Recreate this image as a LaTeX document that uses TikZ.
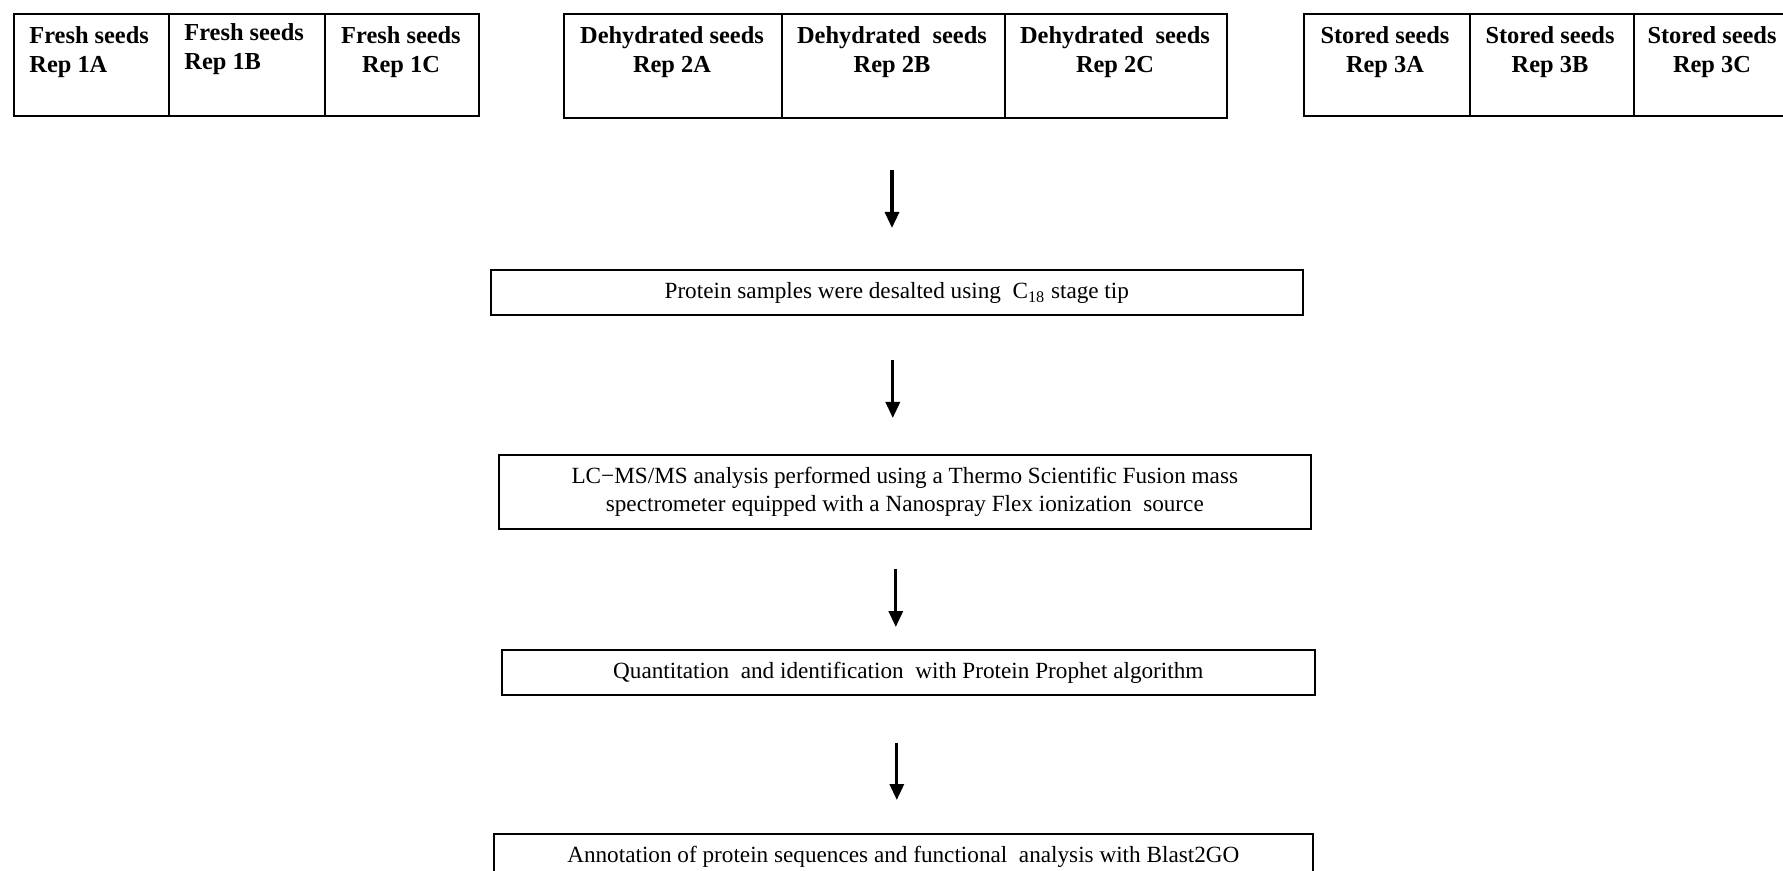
\documentclass[tikz,border=0pt]{standalone}
\usepackage{fontspec}
\setmainfont{Liberation Serif}
\usetikzlibrary{arrows.meta}
\begin{document}
\begin{tikzpicture}[x=0.5pt,y=-0.5pt,
  cell/.style={draw=black, line width=1pt, rectangle, inner sep=0pt, anchor=north west, minimum height=51pt},
  celltext/.style={inner sep=0pt, anchor=north, align=center, font=\fontsize{12.2}{14.5}\selectfont\bfseries},
  celltextl/.style={celltext, anchor=north west, align=left},
  stepbox/.style={draw=black, line width=0.8pt, rectangle, inner sep=0pt, anchor=north west,
    align=center, font=\fontsize{11.6}{13.6}\selectfont},
  flow/.style={line width=1.6pt, -{Triangle[width=7pt,length=8pt]}}
]
\useasboundingbox (0,0) rectangle (1783,871);

% fresh seeds
\node[cell, minimum width=77.5pt] (f1) at (13,13) {};
\node[cell, minimum width=78pt]   (f2) at (168,13) {};
\node[cell, minimum width=77pt]   (f3) at (324,13) {};
\node[celltextl] (tf1) at (29,26) {Fresh seeds\\Rep 1A};
\node[celltextl] (tf2) at (184,23) {Fresh seeds\\Rep 1B};
\node[celltext]  (tf3) at (401,26) {Fresh seeds\\Rep 1C};

% dehydrated seeds
\node[cell, minimum width=109pt, minimum height=52pt]   (d1) at (563,13) {};
\node[cell, minimum width=111.5pt, minimum height=52pt] (d2) at (781,13) {};
\node[cell, minimum width=111pt, minimum height=52pt]   (d3) at (1004,13) {};
\node[celltext] (td1) at (672,26) {Dehydrated seeds\\Rep 2A};
\node[celltext] (td2) at (892,26) {Dehydrated~~seeds\\Rep 2B};
\node[celltext] (td3) at (1115,26) {Dehydrated~~seeds\\Rep 2C};

% stored seeds
\node[cell, minimum width=83pt]   (s1) at (1303,13) {};
\node[cell, minimum width=82pt]   (s2) at (1469,13) {};
\node[cell, minimum width=78.5pt] (s3) at (1633,13) {};
\node[celltext] (ts1) at (1385,26) {Stored seeds\\Rep 3A};
\node[celltext] (ts2) at (1550,26) {Stored seeds\\Rep 3B};
\node[celltext] (ts3) at (1712,26) {Stored seeds\\Rep 3C};

% processing steps
\node[stepbox, minimum width=406pt, minimum height=22.5pt, text depth=1.5pt] (b1) at (490,269)
  {Protein samples were desalted using~~C\textsubscript{18} stage tip};
\node[stepbox, minimum width=406pt, minimum height=37pt] (b2) at (498,454)
  {LC−MS/MS analysis performed using a Thermo Scientific Fusion mass\\
   spectrometer equipped with a Nanospray Flex ionization~~source};
\node[stepbox, minimum width=406.5pt, minimum height=22.5pt, text depth=1.5pt] (b3) at (501,649)
  {Quantitation~~and identification~~with Protein Prophet algorithm};
\node[stepbox, minimum width=409.5pt, minimum height=22.5pt, text depth=1.5pt] (b4) at (493,833)
  {Annotation of protein sequences and functional~~analysis with Blast2GO};

% arrows
\draw[flow, shorten <=25.5pt, shorten >=20.5pt] ([xshift=-0.75pt]d2.south) -- ([xshift=-0.75pt]d2.south |- b1.north);
\draw[flow, shorten <=22pt, shorten >=18pt] ([xshift=-2pt]b1.south) -- ([xshift=-2pt]b1.south |- b2.north);
\draw[flow, shorten <=19.5pt, shorten >=11pt] ([xshift=-4.5pt]b2.south) -- ([xshift=-4.5pt]b2.south |- b3.north);
\draw[flow, shorten <=23.5pt, shorten >=16.5pt] ([xshift=-5.75pt]b3.south) -- ([xshift=-5.75pt]b3.south |- b4.north);
\end{tikzpicture}
\end{document}
